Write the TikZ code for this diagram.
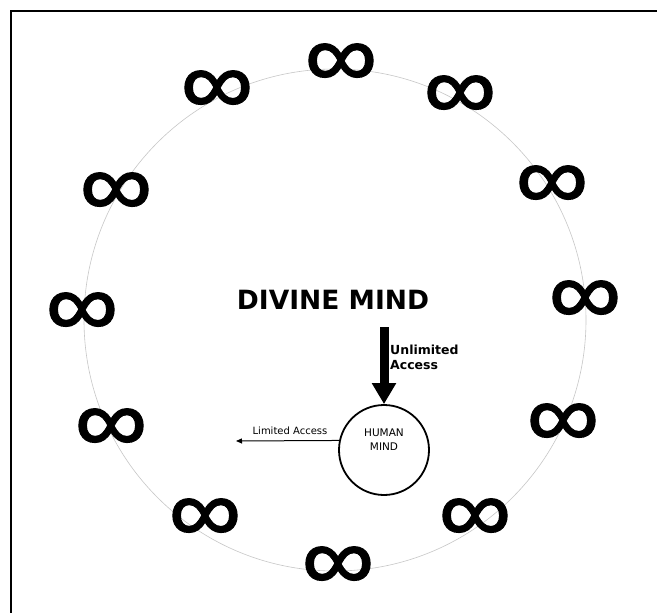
\documentclass[tikz,border=0pt]{standalone}
\usepackage{fontspec}
\setmainfont{DejaVu Sans}
\newfontfamily\inffont{Fira Sans}[FakeBold=1.2]
\usetikzlibrary{arrows.meta}
\begin{document}
\begin{tikzpicture}[x=1pt,y=-1pt,
  inf/.style={inner sep=0pt, font=\inffont\fontsize{82}{90}\selectfont},
  frame/.style={line width=2pt, black},
  bigcircle/.style={circle, draw=black!22, line width=0.6pt, minimum size=502pt, inner sep=0pt},
  mind/.style={circle, draw, line width=1.8pt, minimum size=90pt, inner sep=0pt},
  smalltext/.style={font=\fontsize{10}{14}\selectfont, inner sep=0pt},
  boldtext/.style={font=\bfseries\fontsize{12.5}{15}\selectfont, inner sep=0pt, align=left}]
\useasboundingbox (0,0) rectangle (657,613);
\fill[white] (0,0) rectangle (657,613);
\draw[frame] (657,10.5) -- (11,10.5) -- (11,613);
\node[bigcircle] (outer) at (335,320) {};
\node[inf] (i1) at (341,65) {∞};
\node[inf] (i2) at (460,97) {∞};
\node[inf] (i3) at (552,187) {∞};
\node[inf] (i4) at (585,302) {∞};
\node[inf] (i5) at (563,425) {∞};
\node[inf] (i6) at (475,520) {∞};
\node[inf] (i7) at (338,568) {∞};
\node[inf] (i8) at (205,520) {∞};
\node[inf] (i9) at (111,430) {∞};
\node[inf] (i10) at (82,314) {∞};
\node[inf] (i11) at (116,194) {∞};
\node[inf] (i12) at (217,92) {∞};
\node[font=\bfseries\fontsize{26.5}{30}\selectfont, inner sep=0pt] (divine) at (333,300) {DIVINE MIND};
\node[mind] (human) at (384,450) {};
\node[smalltext, align=center, font=\fontsize{10.5}{14}\selectfont] (humantext) at (384,440) {HUMAN\\MIND};
\coordinate (arrowtop) at (384,327);
\draw[line width=9pt, -{Triangle[length=21pt,width=23pt]}] (arrowtop) -- (human.north);
\node[boldtext, anchor=west] (unlimited) at (390,357) {Unlimited\\Access};
\coordinate (limend) at (236,441);
\draw[line width=1pt, -{Triangle[length=6pt,width=5pt]}] (human.168.5) -- (limend);
\node[smalltext] (limited) at (290,431) {Limited Access};
\end{tikzpicture}
\end{document}
